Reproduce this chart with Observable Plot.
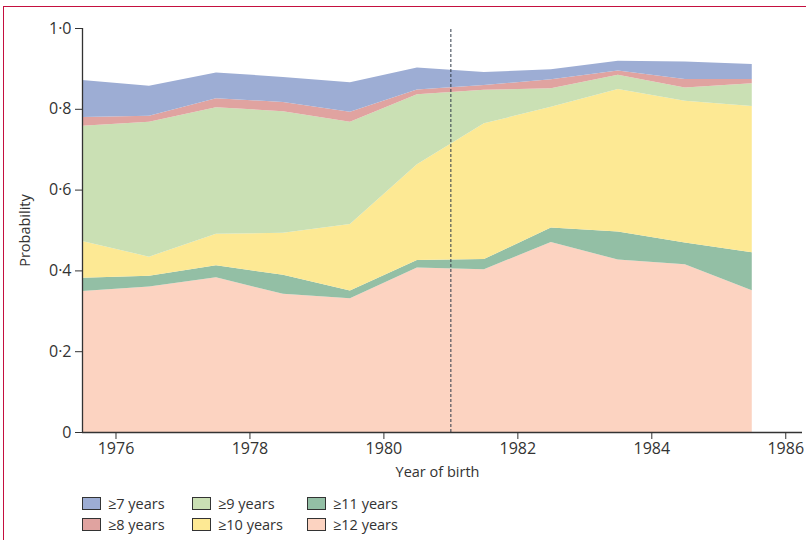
<!DOCTYPE html>
<html>
<head>
<meta charset="utf-8">
<script src="https://cdn.jsdelivr.net/npm/d3@7"></script>
<script src="https://cdn.jsdelivr.net/npm/@observablehq/plot@0.6"></script>
<style>
  html, body { margin: 0; padding: 0; background: #fff; }
  #wrap { position: relative; width: 806px; height: 540px; overflow: hidden; font-family: "Open Sans", "Noto Sans", sans-serif; color: #333; }
  #frame { position: absolute; left: 3px; top: 6px; width: 820px; height: 560px; border-top: 1px solid #c40f3f; border-left: 1px solid #c40f3f; }
  #chart { position: absolute; left: 0; top: 0; }
  #legend { position: absolute; left: 0; top: 0; width: 806px; }
  .item { position: absolute; display: flex; align-items: center; font-size: 14.5px; color: #333; white-space: nowrap; }
  .sw { width: 17px; height: 11px; border: 1px solid #333; margin-right: 7px; }
</style>
</head>
<body>
<div id="wrap">
  <div id="frame"></div>
  <div id="chart"></div>
  <div id="legend"></div>
</div>
<script>
// Year of birth (mid-year points)
const years = [1975.5, 1976.5, 1977.5, 1978.5, 1979.5, 1980.5, 1981.5, 1982.5, 1983.5, 1984.5, 1985.5];
// Cumulative probabilities of completing at least k years of schooling
const ge12 = [0.349, 0.360, 0.383, 0.342, 0.331, 0.407, 0.403, 0.470, 0.427, 0.415, 0.351];
const ge11 = [0.382, 0.387, 0.413, 0.389, 0.350, 0.426, 0.428, 0.506, 0.496, 0.469, 0.445];
const ge10 = [0.473, 0.434, 0.491, 0.493, 0.515, 0.663, 0.764, 0.805, 0.849, 0.820, 0.807];
const ge9  = [0.758, 0.768, 0.804, 0.794, 0.768, 0.836, 0.847, 0.851, 0.884, 0.853, 0.863];
const ge8  = [0.780, 0.783, 0.826, 0.817, 0.793, 0.848, 0.859, 0.873, 0.895, 0.874, 0.874];
const ge7  = [0.871, 0.857, 0.890, 0.879, 0.866, 0.902, 0.891, 0.898, 0.919, 0.917, 0.911];

const seriesNames = ["≥12 years", "≥11 years", "≥10 years", "≥9 years", "≥8 years", "≥7 years"];
const seriesValues = [ge12, ge11, ge10, ge9, ge8, ge7];
const seriesColors = ["#fcd3c1", "#93bfa5", "#fde994", "#cae0b4", "#e0a3a0", "#9dadd4"];

const xTicks = [1976, 1978, 1980, 1982, 1984, 1986];
const yTicks = [0, 0.2, 0.4, 0.6, 0.8, 1.0];
const cutoffYear = 1981;

// Legend order (as in reference, column-wise)
const legendOrder = ["≥7 years", "≥8 years", "≥9 years", "≥10 years", "≥11 years", "≥12 years"];

const rows = [];
seriesNames.forEach((name, i) => {
  years.forEach((yr, j) => {
    rows.push({
      series: name,
      year: yr,
      lo: i === 0 ? 0 : seriesValues[i - 1][j],
      hi: seriesValues[i][j]
    });
  });
});

const fmt = v => v === 0 ? "0" : v.toFixed(1).replace(".", "·");

const plot = Plot.plot({
  width: 806,
  height: 486,
  marginLeft: 82,
  marginRight: 4,
  marginTop: 28,
  marginBottom: 54,
  style: { fontFamily: "'Open Sans', 'Noto Sans', sans-serif", fontSize: "16px", color: "#333", background: "transparent" },
  x: { domain: [1975.5, 1986.25] },
  y: { domain: [0, 1] },
  color: { domain: seriesNames, range: seriesColors },
  marks: [
    ...seriesNames.map(name => Plot.areaY(rows.filter(r => r.series === name), {
      x: "year", y1: "lo", y2: "hi", fill: seriesColors[seriesNames.indexOf(name)], curve: "linear"
    })),
    Plot.ruleX([cutoffYear], { y1: 0, y2: 1, stroke: "#2f3a48", strokeWidth: 1, strokeDasharray: "3,2" }),
    Plot.ruleX([1975.5], { y1: 0, y2: 1, stroke: "#333", strokeWidth: 1.3 }),
    Plot.ruleY([0], { stroke: "#333", strokeWidth: 1.3 }),
    Plot.axisY({ ticks: yTicks, tickFormat: fmt, tickSize: 7, tickPadding: 4, label: null, stroke: "#333", fontSize: 16 }),
    Plot.axisX({ ticks: xTicks, tickFormat: d => String(d), tickSize: 7, tickPadding: 3, label: null, stroke: "#333", fontSize: 16 }),
    Plot.text(["Probability"], { frameAnchor: "left", textAnchor: "middle", rotate: -90, dx: -57, fontSize: 14.5, fill: "#333" }),
    Plot.text(["Year of birth"], { frameAnchor: "bottom", textAnchor: "middle", dx: -5, dy: 44, fontSize: 14.5, fill: "#333" })
  ]
});
document.getElementById("chart").appendChild(plot);

// Legend
const legend = document.getElementById("legend");
const colX = [82, 192, 307];
const rowY = [494, 515];
legendOrder.forEach((name, k) => {
  const col = Math.floor(k / 2), row = k % 2;
  const div = document.createElement("div");
  div.className = "item";
  div.style.left = colX[col] + "px";
  div.style.top = rowY[row] + "px";
  const sw = document.createElement("span");
  sw.className = "sw";
  sw.style.background = seriesColors[seriesNames.indexOf(name)];
  div.appendChild(sw);
  div.appendChild(document.createTextNode(name));
  legend.appendChild(div);
});
</script>
</body>
</html>
